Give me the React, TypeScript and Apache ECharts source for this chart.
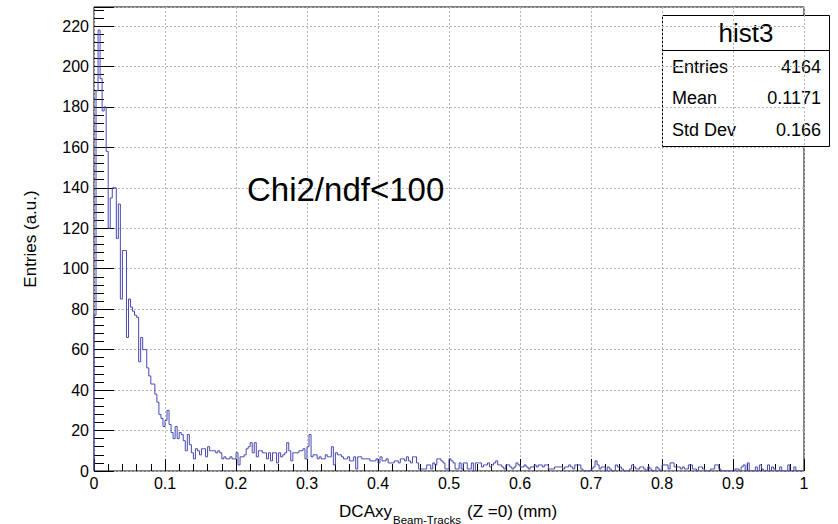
import React, { useEffect, useRef } from "react";
import * as echarts from "echarts";

// ---- data ----
const X_MIN = 0;
const X_MAX = 1;
const X_TICK = 0.1;
const Y_MAX = 229.4;
const Y_TICK = 20;

// bin contents (350 equal bins from X_MIN to X_MAX)
const counts: number[] = [
  77, 188, 218, 194, 178, 180, 158, 120, 135, 140,
  140, 115, 132, 85, 109, 109, 66, 85, 81, 79,
  77, 76, 54, 66, 60, 60, 51, 47, 43, 43,
  38, 34, 28, 26, 22, 25, 30, 23, 19, 16,
  22, 16, 19, 18, 15, 10, 18, 13, 9, 6,
  11, 10, 8, 11, 11, 7, 12, 10, 10, 10,
  9, 10, 9, 6, 7, 6, 6, 7, 6, 6,
  9, 3, 7, 7, 8, 11, 12, 14, 9, 14,
  7, 10, 10, 9, 9, 6, 9, 5, 9, 9,
  4, 9, 7, 8, 9, 14, 10, 5, 9, 9,
  9, 10, 10, 11, 6, 12, 18, 7, 8, 8,
  6, 7, 6, 6, 8, 7, 7, 12, 3, 9,
  8, 8, 7, 6, 6, 7, 5, 5, 7, 1,
  7, 7, 6, 6, 6, 6, 5, 5, 5, 6,
  4, 7, 5, 5, 6, 4, 4, 4, 5, 5,
  4, 6, 6, 5, 7, 5, 4, 7, 7, 4,
  1, 1, 1, 1, 3, 3, 1, 4, 3, 6,
  6, 5, 4, 1, 1, 6, 5, 4, 1, 1,
  4, 1, 4, 4, 1, 1, 4, 0, 4, 4,
  4, 2, 3, 3, 4, 2, 3, 4, 5, 3,
  3, 2, 1, 3, 3, 2, 1, 2, 4, 3,
  2, 2, 3, 2, 1, 2, 2, 3, 2, 3,
  3, 2, 3, 3, 1, 1, 1, 2, 2, 2,
  2, 1, 2, 2, 3, 2, 1, 3, 3, 3,
  1, 0, 0, 0, 0, 1, 2, 5, 3, 1,
  2, 2, 0, 2, 1, 0, 0, 3, 2, 2,
  1, 0, 0, 0, 1, 3, 2, 1, 1, 2,
  2, 1, 0, 2, 1, 0, 0, 2, 1, 0,
  3, 3, 3, 1, 4, 4, 2, 2, 2, 1,
  2, 1, 1, 3, 3, 1, 1, 0, 2, 2,
  1, 0, 0, 0, 1, 1, 3, 3, 1, 0,
  0, 0, 0, 0, 0, 0, 1, 1, 0, 2,
  3, 0, 4, 0, 0, 0, 2, 0, 3, 1,
  0, 0, 3, 0, 2, 1, 0, 0, 2, 0,
  0, 0, 3, 0, 0, 2, 0, 0, 0, 0,
];

const histName = "hist3";
const statLabels = ["Entries", "Mean", "Std Dev"];
const statValues = ["4164", "0.1171", "0.166"];
const annotation = "Chi2/ndf<100";
const xTitleMain = "DCAxy";
const xTitleSub = "Beam-Tracks";
const xTitleTail = "(Z =0) (mm)";
const yTitle = "Entries (a.u.)";

const FONT = "'Liberation Sans', Arial, Helvetica, sans-serif";

function buildStepData(): number[][] {
  const n = counts.length;
  const w = (X_MAX - X_MIN) / n;
  const pts: number[][] = [[X_MIN, 0]];
  for (let i = 0; i < n; i++) pts.push([X_MIN + i * w, counts[i]]);
  pts.push([X_MAX, counts[n - 1]]);
  pts.push([X_MAX, 0]);
  return pts;
}

export default function App() {
  const ref = useRef<HTMLDivElement>(null);
  useEffect(() => {
    if (!ref.current) return;
    const chart = echarts.init(ref.current, undefined, { renderer: "svg" });
    const tickColor = "#000";
    const gridLine = { color: "#b4b4b4", type: [2, 2] as any, width: 1 };
    const statRowY = [66.5, 98, 130];
    const option: any = {
      animation: false,
      backgroundColor: "#fff",
      grid: {
        left: 94,
        top: 7,
        width: 710,
        height: 464,
        show: true,
        borderColor: "#000",
        borderWidth: 1,
        backgroundColor: "transparent",
      },
      xAxis: {
        type: "value",
        min: X_MIN,
        max: X_MAX,
        interval: X_TICK,
        axisLine: { show: false },
        axisTick: { show: true, inside: true, length: 12, lineStyle: { color: tickColor } },
        minorTick: { show: true, splitNumber: 5, length: 7, lineStyle: { color: tickColor } },
        splitLine: { show: true, lineStyle: gridLine },
        axisLabel: {
          color: "#000",
          fontSize: 16,
          fontFamily: FONT,
          margin: 4,
          formatter: (v: number) =>
            Math.abs(v) < 1e-9 ? "0" : Math.abs(v - 1) < 1e-9 ? "1" : v.toFixed(1),
        },
      },
      yAxis: {
        type: "value",
        min: 0,
        max: Y_MAX,
        interval: Y_TICK,
        axisLine: { show: false },
        axisTick: { show: true, inside: true, length: 20, lineStyle: { color: tickColor } },
        minorTick: { show: true, splitNumber: 5, length: 10, lineStyle: { color: tickColor } },
        splitLine: { show: true, lineStyle: gridLine },
        axisLabel: {
          color: "#000",
          fontSize: 16,
          fontFamily: FONT,
          margin: 5,
          showMaxLabel: false,
        },
      },
      series: [
        {
          type: "line",
          data: buildStepData(),
          step: "end",
          symbol: "none",
          showSymbol: false,
          silent: true,
          lineStyle: { color: "#4848b4", width: 1 },
          z: 5,
        },
      ],
      graphic: [
        {
          type: "text",
          left: 247,
          top: 173,
          style: { text: annotation, fontSize: 33, fontFamily: FONT, fill: "#000" },
          z: 20,
        },
        {
          type: "group",
          z: 30,
          children: [
            {
              type: "rect",
              shape: { x: 662.5, y: 15.5, width: 167, height: 131 },
              style: { fill: "#fff", stroke: "#000", lineWidth: 1 },
            },
            {
              type: "line",
              shape: { x1: 662.5, y1: 50.5, x2: 829.5, y2: 50.5 },
              style: { stroke: "#000", lineWidth: 1 },
            },
            {
              type: "text",
              x: 746,
              y: 33,
              style: {
                text: histName,
                fontSize: 26,
                fontFamily: FONT,
                fill: "#000",
                textAlign: "center",
                textVerticalAlign: "middle",
              },
            },
            ...statLabels.map((s, i) => ({
              type: "text",
              x: 672,
              y: statRowY[i],
              style: {
                text: s,
                fontSize: 18,
                fontFamily: FONT,
                fill: "#000",
                textAlign: "left",
                textVerticalAlign: "middle",
              },
            })),
            ...statValues.map((s, i) => ({
              type: "text",
              x: 821,
              y: statRowY[i],
              style: {
                text: s,
                fontSize: 18,
                fontFamily: FONT,
                fill: "#000",
                textAlign: "right",
                textVerticalAlign: "middle",
              },
            })),
          ],
        },
        {
          type: "text",
          x: 392,
          y: 511,
          style: {
            text: xTitleMain,
            fontSize: 17,
            fontFamily: FONT,
            fill: "#000",
            textAlign: "right",
            textVerticalAlign: "middle",
          },
        },
        {
          type: "text",
          x: 393,
          y: 519.5,
          style: {
            text: xTitleSub,
            fontSize: 11.5,
            fontFamily: FONT,
            fill: "#000",
            textAlign: "left",
            textVerticalAlign: "middle",
          },
        },
        {
          type: "text",
          x: 467,
          y: 511,
          style: {
            text: xTitleTail,
            fontSize: 17,
            fontFamily: FONT,
            fill: "#000",
            textAlign: "left",
            textVerticalAlign: "middle",
          },
        },
        {
          type: "text",
          x: 30,
          y: 239,
          rotation: Math.PI / 2,
          style: {
            text: yTitle,
            fontSize: 17,
            fontFamily: FONT,
            fill: "#000",
            textAlign: "center",
            textVerticalAlign: "middle",
          },
        },
      ],
    };
    chart.setOption(option);
    return () => chart.dispose();
  }, []);
  return (
    <div
      ref={ref}
      style={{ position: "fixed", left: 0, top: 0, width: 838, height: 524, background: "#fff" }}
    />
  );
}
